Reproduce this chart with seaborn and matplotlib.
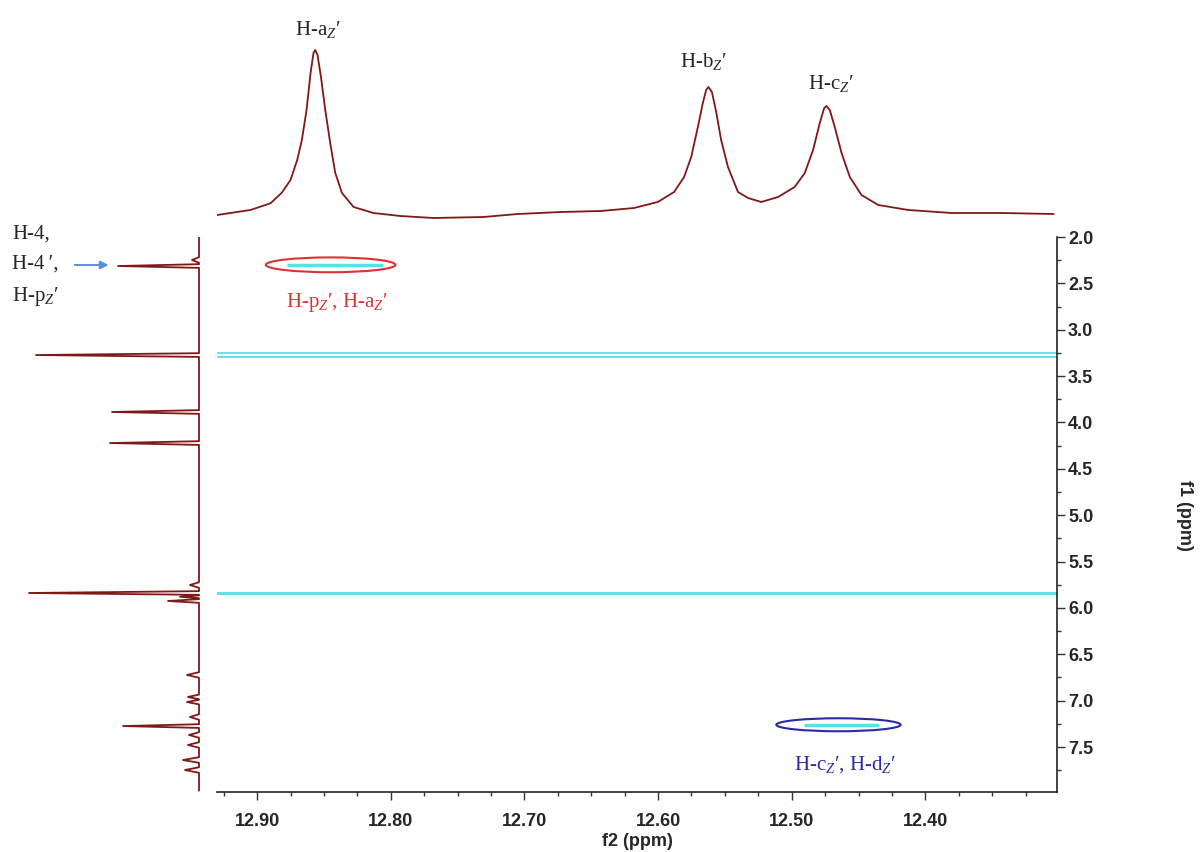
import numpy as np
import pandas as pd
import matplotlib.pyplot as plt
import seaborn as sns
from matplotlib.patches import Ellipse
from matplotlib.ticker import MultipleLocator, FormatStrFormatter

sns.set_style('white')
plt.rcParams['font.family'] = ['Liberation Sans', 'DejaVu Sans']
plt.rcParams['mathtext.fontset'] = 'custom'
plt.rcParams['mathtext.rm'] = 'Liberation Serif'
plt.rcParams['mathtext.it'] = 'Liberation Serif:italic'

# top 1D spectrum (f2)
top_ppm = [12.930, 12.905, 12.890, 12.8815, 12.875, 12.870, 12.8665, 12.863, 12.860, 12.8578,
           12.8565, 12.8548, 12.8522, 12.849, 12.8453, 12.8415, 12.8365, 12.8278, 12.813, 12.7928,
           12.768, 12.7305, 12.705, 12.6728, 12.6428, 12.618, 12.6002, 12.588, 12.5805, 12.5752,
           12.5702, 12.5665, 12.564, 12.5623, 12.5597, 12.5565, 12.5528, 12.5477, 12.5402, 12.5327,
           12.5228, 12.5102, 12.4978, 12.4902, 12.484, 12.479, 12.4757, 12.474, 12.4715, 12.4678,
           12.4627, 12.4565, 12.4478, 12.4352, 12.4127, 12.3802, 12.3428, 12.304]
top_int = [3, 8, 14.7, 25.3, 38, 58, 78, 108, 145, 165,
           168, 163, 141, 108, 75, 45, 25, 11, 5, 2,
           0, 1, 4, 6, 7, 10, 16, 26, 41, 61,
           91, 115, 128, 131, 126, 106, 78, 51, 26, 20,
           16, 21, 31, 45, 68, 95, 110, 112, 108, 91,
           65, 41, 23, 13, 8, 5, 5, 4]

# left 1D spectrum (f1): peak position, height, half width
left_pos = [2.248, 2.313, 3.273, 3.887, 4.222, 5.753, 5.839, 5.88, 5.925,
            6.723, 6.96, 7.015, 7.176, 7.274, 7.37, 7.478, 7.64, 7.748]
left_height = [7, 81, 163, 87, 89, 9, 170, 19, 31,
               12, 11, 12, 9, 76, 10, 11, 16, 14]
left_hw = [0.03, 0.02, 0.02, 0.02, 0.02, 0.03, 0.02, 0.015, 0.02,
           0.03, 0.025, 0.025, 0.03, 0.02, 0.03, 0.03, 0.03, 0.03]

# 2D contours
diag_f1 = [3.255, 3.29, 5.835, 5.85]
cross_f1 = [2.30, 7.26]
cross_f2_start = [12.8775, 12.4905]
cross_f2_end = [12.806, 12.435]

# build left trace
lx, ly = [0], [2.0]
for c, h, w in zip(left_pos, left_height, left_hw):
    lx += [0, h, 0]
    ly += [c - w, c, c + w]
lx.append(0)
ly.append(7.97)

fig = plt.figure(figsize=(12, 8.52), dpi=100)
W, H = 1200, 852
spec_col = '#801818'
cyan = '#55e3e8'

ax = fig.add_axes([217 / W, 1 - 792 / H, 840 / W, 555 / H])
ax_top = fig.add_axes([217 / W, 1 - 220 / H, 840 / W, 180 / H])
ax_left = fig.add_axes([0, 1 - 792 / H, 215 / W, 555 / H])

# top spectrum
sns.lineplot(x=top_ppm, y=top_int, ax=ax_top, color=spec_col, lw=1.3, sort=False, estimator=None)
ax_top.set_xlim(12.93, 12.3015)
ax_top.set_ylim(-2, 178)
ax_top.axis('off')

# left spectrum
sns.lineplot(x=lx, y=ly, ax=ax_left, color=spec_col, lw=1.3, sort=False, estimator=None)
ax_left.set_xlim(199, -16)
ax_left.set_ylim(7.985, 2.0)
ax_left.axis('off')

# 2D map
for f1 in diag_f1:
    ax.axhline(f1, color=cyan, lw=1.3)
ax.hlines(cross_f1, cross_f2_start, cross_f2_end, color=cyan, lw=2.5)
ax.add_patch(Ellipse((12.845, 2.30), 0.097, 0.16, fill=False, ec='#e03131', lw=1.5))
ax.add_patch(Ellipse((12.465, 7.26), 0.093, 0.14, fill=False, ec='#2a2aa8', lw=1.5))

ax.set_xlim(12.93, 12.3015)
ax.set_ylim(7.985, 2.0)
for s in ['top', 'left']:
    ax.spines[s].set_visible(False)
for s in ['bottom', 'right']:
    ax.spines[s].set_color('#222222')
    ax.spines[s].set_linewidth(1.2)
ax.yaxis.tick_right()
ax.xaxis.set_major_locator(MultipleLocator(0.1))
ax.xaxis.set_minor_locator(MultipleLocator(0.025))
ax.xaxis.set_major_formatter(FormatStrFormatter('%.2f'))
ax.yaxis.set_major_locator(MultipleLocator(0.5))
ax.yaxis.set_minor_locator(MultipleLocator(0.25))
ax.yaxis.set_major_formatter(FormatStrFormatter('%.1f'))
ax.tick_params(which='major', direction='out', length=6, width=1, color='#333333', labelsize=13)
ax.tick_params(which='minor', direction='out', length=3, width=1, color='#333333')
ax.tick_params(axis='x', which='both', bottom=True, pad=9)
ax.tick_params(axis='y', which='both', right=True, left=False, pad=2)
for lab in ax.get_xticklabels() + ax.get_yticklabels():
    lab.set_fontweight('bold')
ax.set_xlabel('f2 (ppm)', fontsize=13, fontweight='bold', labelpad=2)
fig.text(1185 / W, 1 - 515 / H, 'f1 (ppm)', rotation=270, ha='center', va='center',
         fontsize=13, fontweight='bold')

# annotations
serif = ['Liberation Serif', 'DejaVu Serif']
pz = '$_{Z}$\u2032'
fig.text(318 / W, 1 - 30 / H, 'H-a' + pz, ha='center', va='center', fontsize=15, family=serif)
fig.text(703 / W, 1 - 62 / H, 'H-b' + pz, ha='center', va='center', fontsize=15, family=serif)
fig.text(831 / W, 1 - 84 / H, 'H-c' + pz, ha='center', va='center', fontsize=15, family=serif)
fig.text(337 / W, 1 - 302 / H, 'H-p' + pz + ', H-a' + pz, ha='center', va='center',
         fontsize=15, family=serif, color='#e03131')
fig.text(845 / W, 1 - 765 / H, 'H-c' + pz + ', H-d' + pz, ha='center', va='center',
         fontsize=15, family=serif, color='#2a2aa8')
fig.text(12 / W, 1 - 234 / H, 'H-4,', ha='left', va='center', fontsize=15, family=serif)
fig.text(12 / W, 1 - 264 / H, 'H-4\u2009\u2032,', ha='left', va='center', fontsize=15, family=serif)
fig.text(12 / W, 1 - 296 / H, 'H-p' + pz, ha='left', va='center', fontsize=15, family=serif)
fig.add_artist(plt.annotate('', xy=(111 / W, 1 - 265 / H), xytext=(72 / W, 1 - 265 / H),
                            xycoords='figure fraction', textcoords='figure fraction',
                            arrowprops=dict(arrowstyle='-|>', color='#5b8fd8', lw=1.2,
                                            mutation_scale=12)))

fig.savefig('out.png', dpi=100)
